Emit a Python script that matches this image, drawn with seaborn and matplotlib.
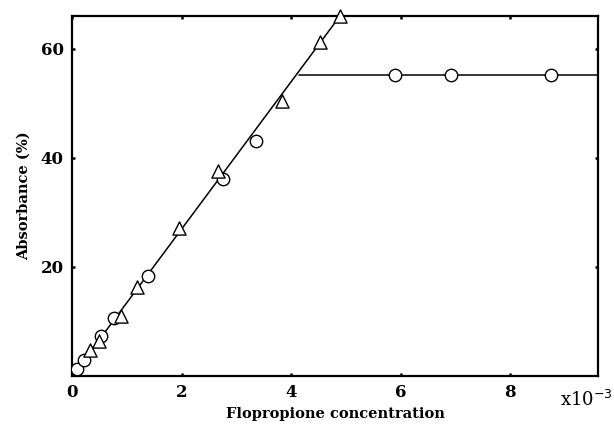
import matplotlib
matplotlib.use("Agg")
import matplotlib.pyplot as plt
import seaborn as sns
import pandas as pd

# Data (x in units of 1e-3)
circle_x = [0.09, 0.22, 0.52, 0.77, 1.38, 2.75, 3.35, 5.89, 6.91, 8.74]
circle_y = [1.2, 3.0, 7.4, 10.6, 18.4, 36.2, 43.1, 55.1, 55.1, 55.2]
tri_x = [0.33, 0.49, 0.90, 1.18, 1.96, 2.66, 3.83, 4.53, 4.89]
tri_y = [4.8, 6.5, 11.0, 16.3, 27.1, 37.5, 50.4, 61.2, 66.0]
rise_x = [0.05, 4.95]
rise_y = [0.6, 66.8]
plateau_x = [4.14, 9.6]
plateau_y = [55.2, 55.2]
xticks = [0, 2, 4, 6, 8]
yticks = [20, 40, 60]

sns.set_style("ticks")
plt.rcParams['font.family'] = ['DejaVu Serif']
plt.rcParams['text.color'] = 'black'
plt.rcParams['axes.labelcolor'] = 'black'
plt.rcParams['xtick.color'] = 'black'
plt.rcParams['ytick.color'] = 'black'

fig = plt.figure(figsize=(6.14, 4.32), dpi=100)
ax = fig.add_axes([0.1173, 0.1296, 0.974 - 0.1173, 0.963 - 0.1296])

sns.lineplot(x=rise_x, y=rise_y, ax=ax, color="black", lw=1.1, zorder=2)
sns.lineplot(x=plateau_x, y=plateau_y, ax=ax, color="black", lw=1.1, zorder=2)
sns.scatterplot(x=circle_x, y=circle_y, ax=ax, marker="o", s=80,
                facecolor="white", edgecolor="black", linewidth=1.0, zorder=3)
sns.scatterplot(x=tri_x, y=tri_y, ax=ax, marker="^", s=90,
                facecolor="white", edgecolor="black", linewidth=1.0, zorder=3, clip_on=False)

ax.set_xlim(0, 9.6)
ax.set_ylim(0, 66)
ax.set_xticks(xticks)
ax.set_yticks(yticks)
ax.set_xticklabels([str(t) for t in xticks], fontsize=12, fontweight="bold")
ax.set_yticklabels([str(t) for t in yticks], fontsize=12, fontweight="bold")
ax.tick_params(direction="in", length=2.5, width=1.8, top=True, right=True, pad=6)
for sp in ax.spines.values():
    sp.set_linewidth(1.6)
    sp.set_color("black")

ax.set_xlabel("Flopropione concentration", fontsize=10.5, fontweight="semibold", labelpad=4)
ax.set_ylabel("Absorbance (%)", fontsize=10.5, fontweight="semibold", labelpad=7)
fig.text(0.955, 0.075, r"x10$^{-3}$", fontsize=13, ha="center", va="center")

fig.savefig("out.png", dpi=100)
